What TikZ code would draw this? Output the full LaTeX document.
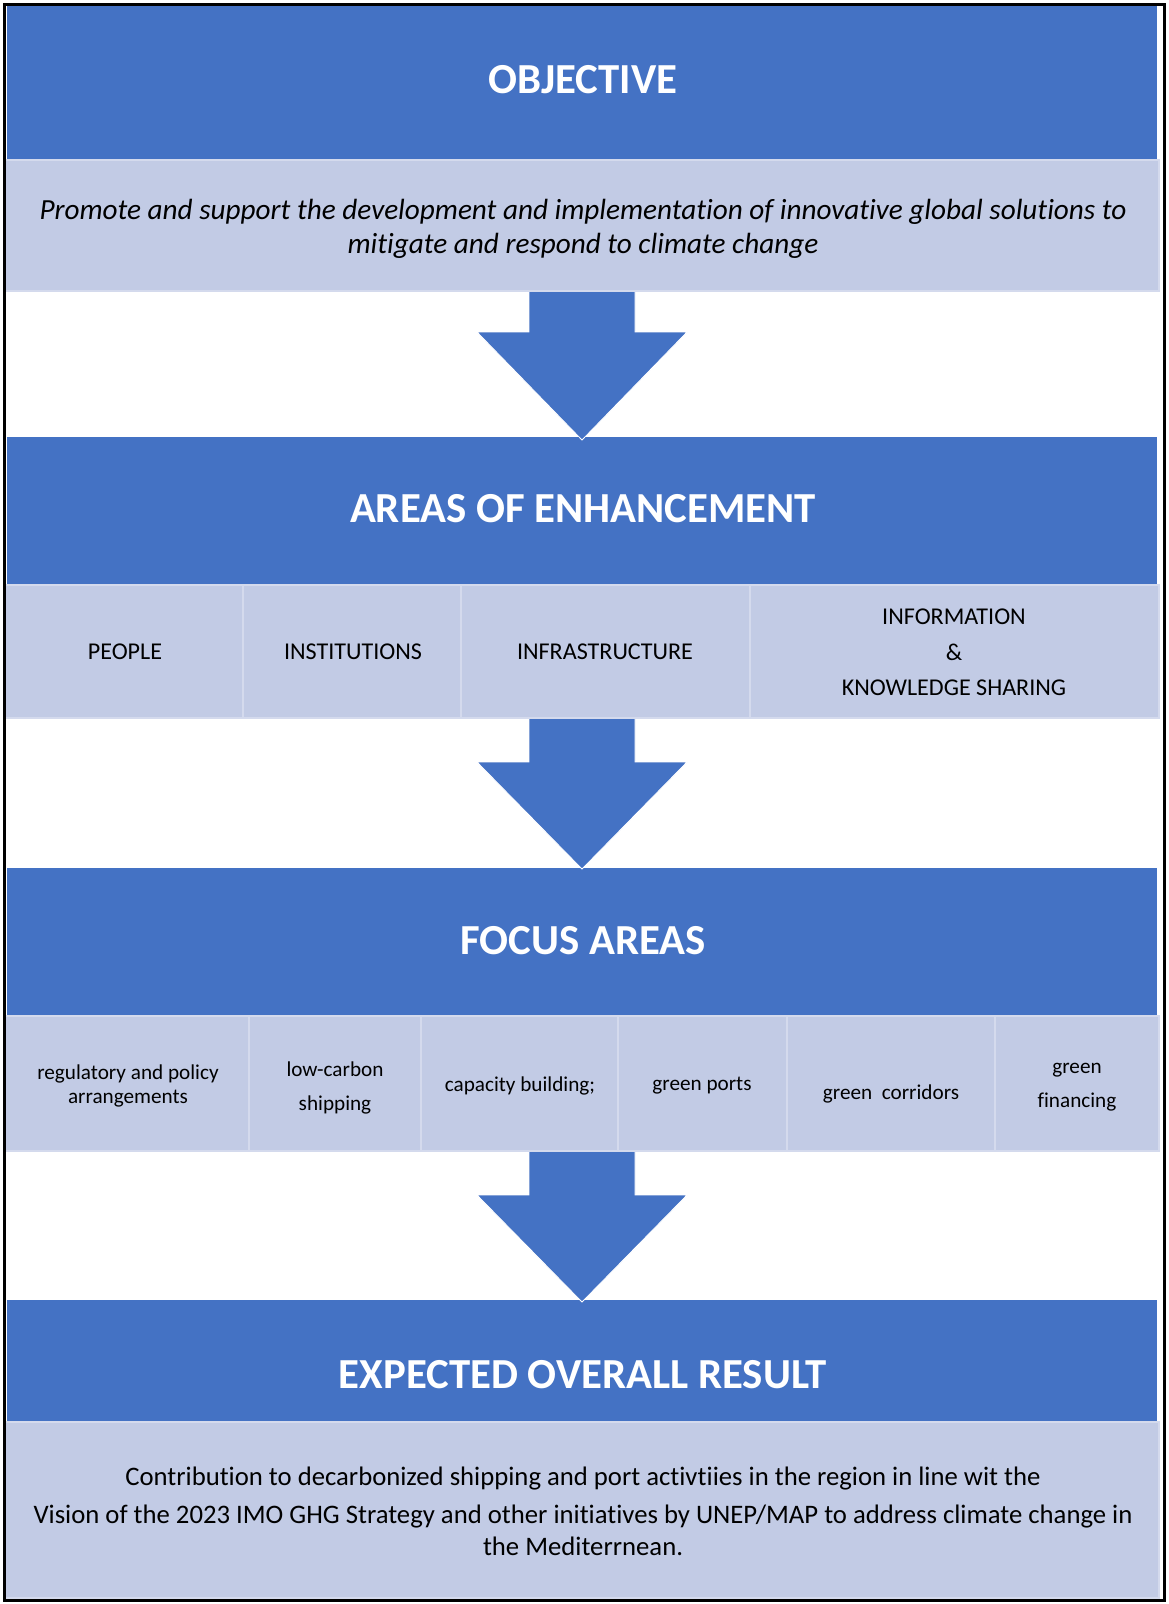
\documentclass[tikz,border=0pt]{standalone}
\usepackage{fontspec}
\setmainfont{Carlito}[Ligatures={NoCommon}]
\definecolor{hdrblue}{RGB}{68,114,196}
\definecolor{cellfill}{RGB}{194,203,229}
\definecolor{cellrule}{RGB}{212,218,237}

\begin{document}
\begin{tikzpicture}[x=1pt,y=-1pt,
  header/.style={fill=hdrblue, inner sep=0pt, outer sep=0pt, anchor=north west},
  cell/.style={fill=cellfill, draw=cellrule, line width=1.6pt, inner sep=0pt, outer sep=0pt, anchor=north west},
  htext/.style={text=white, inner sep=0pt, font=\bfseries\fontsize{42.8}{51}\selectfont},
  lbl/.style={text=black, align=center, inner sep=0pt},
  blockarrow/.style={fill=hdrblue, draw=white, line width=0.8pt, line join=miter}
]
% page
\path[use as bounding box, fill=white] (0,0) rectangle (1168,1604);

% blue title bands
\node[header, minimum width=1150pt, minimum height=154pt] (hObj) at (7,6) {};
\node[header, minimum width=1150pt, minimum height=148pt] (hArea) at (7,437) {};
\node[header, minimum width=1150pt, minimum height=148pt] (hFocus) at (7,868) {};
\node[header, minimum width=1150pt, minimum height=122pt] (hRes) at (7,1300) {};

% block arrows between the stages
\foreach \t/\b/\p in {290/332/440, 718/762/869, 1151/1195/1302}{
  \draw[blockarrow] (529,\t) -- (635,\t) -- (635,\b) -- (687,\b) -- (582,\p)
    -- (477,\b) -- (529,\b) -- cycle;
}

% objective panel
\node[cell, minimum width=1154pt, minimum height=131pt] (pObj) at (5,160) {};

% areas of enhancement row
\node[cell, minimum width=238pt, minimum height=133pt] (a1) at (5,585) {};
\node[cell, minimum width=218pt, minimum height=133pt] (a2) at (243,585) {};
\node[cell, minimum width=289pt, minimum height=133pt] (a3) at (461,585) {};
\node[cell, minimum width=409pt, minimum height=133pt] (a4) at (750,585) {};

% focus areas row
\node[cell, minimum width=244pt, minimum height=135pt] (f1) at (5,1016) {};
\node[cell, minimum width=172pt, minimum height=135pt] (f2) at (249,1016) {};
\node[cell, minimum width=197pt, minimum height=135pt] (f3) at (421,1016) {};
\node[cell, minimum width=169pt, minimum height=135pt] (f4) at (618,1016) {};
\node[cell, minimum width=208pt, minimum height=135pt] (f5) at (787,1016) {};
\node[cell, minimum width=164pt, minimum height=135pt] (f6) at (995,1016) {};

% result panel
\node[cell, minimum width=1154pt, minimum height=176pt] (pRes) at (5,1422) {};

% titles
\node[htext] (tObj) at (583,80) {OBJECTIVE};
\node[htext] (tArea) at (583,509) {AREAS OF ENHANCEMENT};
\node[htext] (tFocus) at (583,941) {FOCUS AREAS};
\node[htext] (tRes) at (583,1375) {EXPECTED OVERALL RESULT};

% objective text
\node[lbl, font=\itshape\fontsize{29.2}{34}\selectfont] (lObj) at (583,228.5)
  {Promote and support the development and implementation of innovative global solutions to\\
   mitigate and respond to climate change};

% areas of enhancement labels
\begin{scope}[every node/.append style={lbl, font=\fontsize{24.1}{35.5}\selectfont}]
\node (lA1) at (125,652) {PEOPLE};
\node (lA2) at (353,652) {INSTITUTIONS};
\node (lA3) at (605,652) {INFRASTRUCTURE};
\node (lA4) at (954,652.5) {INFORMATION\\ \&\\ KNOWLEDGE SHARING};
\end{scope}

% focus area labels
\begin{scope}[every node/.append style={lbl}]
\node[font=\fontsize{21.2}{23.5}\selectfont] (lF1) at (128,1086) {regulatory and policy\\ arrangements};
\node[font=\fontsize{21.2}{34}\selectfont] (lF2) at (335,1087.5) {low-carbon\\ shipping};
\node[font=\fontsize{21.2}{34}\selectfont] (lF3) at (520,1085.5) {capacity building;};
\node[font=\fontsize{21.2}{34}\selectfont] (lF4) at (702,1085.5) {green ports};
\node[font=\fontsize{21.2}{34}\selectfont] (lF5) at (891,1094) {green\ \ corridors};
\node[font=\fontsize{21.2}{34}\selectfont] (lF6) at (1077,1087.5) {green\\ financing};
\end{scope}

% result text
\node[lbl, font=\fontsize{26.7}{32}\selectfont] (lRes) at (583,1511.5)
  {Contribution to decarbonized shipping and port activtiies in the region in line wit the\\[6pt]
   Vision of the 2023 IMO GHG Strategy and other initiatives by UNEP/MAP to address climate change in\\
   the Mediterrnean.};

% outer frame
\draw[line width=3pt] (4.5,4.5) rectangle (1164.5,1600.5);
\end{tikzpicture}
\end{document}
